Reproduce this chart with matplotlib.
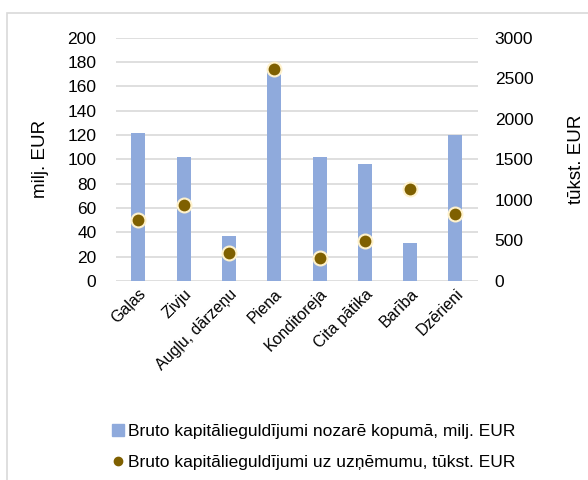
import matplotlib.pyplot as plt
from matplotlib.patches import Rectangle
from matplotlib.lines import Line2D

plt.rcParams['font.family'] = ['Liberation Sans', 'DejaVu Sans']

# data
categories = ["Gaļas", "Zivju", "Augļu, dārzeņu", "Piena", "Konditoreja",
              "Cita pātika", "Barība", "Dzērieni"]
total_mln = [122, 102, 37, 174, 102, 96, 31, 120]
per_firm_k = [750, 940, 345, 2615, 285, 495, 1135, 825]

bar_color = "#8faadc"
dot_color = "#7f6000"

fig = plt.figure(figsize=(5.88, 4.8), dpi=100)
ax = fig.add_axes([0.197, 0.415, 0.616, 0.506])
ax2 = ax.twinx()

x = range(len(categories))
ax.bar(x, total_mln, width=0.31, color=bar_color, zorder=2)
ax2.plot(x, per_firm_k, linestyle="none", marker="o", markersize=10,
         markerfacecolor=dot_color, markeredgecolor="#fff2cc",
         markeredgewidth=1.5, zorder=3)

ax.set_ylim(0, 200)
ax.set_yticks(range(0, 201, 20))
ax2.set_ylim(0, 3000)
ax2.set_yticks(range(0, 3001, 500))
ax.set_xlim(-0.5, len(categories) - 0.5)
ax.yaxis.grid(True, color="#d9d9d9", linewidth=1.2, zorder=0)
ax.set_axisbelow(True)

for a in (ax, ax2):
    for s in a.spines.values():
        s.set_visible(False)
    a.tick_params(length=0, labelsize=12.5)
ax.tick_params(axis="y", pad=14)
ax2.tick_params(axis="y", pad=12)

ax.set_xticks(list(x))
ax.set_xticklabels(categories, rotation=45, ha="right", rotation_mode="anchor",
                   fontsize=11.5)
ax.tick_params(axis="x", pad=4)
ax.set_ylabel("milj. EUR", fontsize=13.5, labelpad=13)
ax2.set_ylabel("tūkst. EUR", fontsize=13.5, labelpad=25)

handles = [
    Line2D([], [], linestyle="none", marker="s", markersize=9,
           markerfacecolor=bar_color, markeredgecolor=bar_color),
    Line2D([], [], linestyle="none", marker="o", markersize=6,
           markerfacecolor=dot_color, markeredgecolor=dot_color),
]
labels = ["Bruto kapitālieguldījumi nozarē kopumā, milj. EUR",
          "Bruto kapitālieguldījumi uz uzņēmumu, tūkst. EUR"]
fig.legend(handles, labels, loc="center left", bbox_to_anchor=(0.18, 0.069),
           frameon=False, fontsize=12.5, handlelength=0.6, handletextpad=0.25,
           labelspacing=0.9, borderaxespad=0)

# outer chart frame
fig.patches.append(Rectangle((7 / 588, -0.1), 1.2, 1 - 13 / 480 + 0.1,
                             transform=fig.transFigure, fill=False,
                             edgecolor="#d9d9d9", linewidth=1.2))

fig.savefig("out.png", dpi=100)
